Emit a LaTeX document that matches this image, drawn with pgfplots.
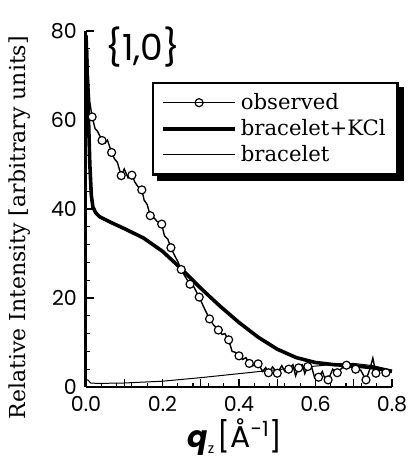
\documentclass[border=0pt]{standalone}
\usepackage{pgfplots}
\pgfplotsset{compat=1.18}
\usepackage{pgfplotstable}
\usepackage{fontspec}
\setmainfont{DejaVu Serif}
\newfontfamily\pop{Poppins}

\pgfplotstableread{
q v
0.003 79
0.006 70
0.010 64
0.016 60.7
0.024 58
0.030 57.5
0.042 55.4
0.050 54.8
0.056 55.5
0.067 52.7
0.075 51.2
0.082 50.5
0.092 47.5
0.100 49.0
0.110 47.0
0.120 47.6
0.128 46.0
0.136 45.0
0.146 44.3
0.152 42.0
0.160 41.0
0.168 38.5
0.178 38.0
0.186 37.2
0.198 36.6
0.205 34.0
0.214 33.2
0.222 31.3
0.232 29.5
0.240 28.2
0.249 26.4
0.258 25.0
0.272 23.1
0.282 22.5
0.296 20.2
0.305 18.5
0.312 17.2
0.323 15.3
0.333 14.0
0.346 12.8
0.356 11.8
0.363 12.0
0.373 10.6
0.382 8.0
0.390 7.8
0.400 7.0
0.410 6.2
0.418 6.6
0.427 5.3
0.437 4.8
0.450 5.2
0.462 3.5
0.470 4.4
0.477 3.2
0.488 4.5
0.500 3.1
0.512 4.8
0.520 3.5
0.530 4.0
0.541 5.0
0.548 2.5
0.556 4.3
0.566 5.0
0.572 3.0
0.580 4.6
0.590 4.5
0.598 2.0
0.608 2.2
0.618 3.5
0.625 1.8
0.633 1.6
0.645 4.0
0.657 3.2
0.668 4.2
0.681 4.9
0.692 4.5
0.705 4.0
0.718 3.8
0.732 1.6
0.742 4.0
0.750 6.5
0.758 3.1
0.770 4.2
0.784 3.2
}\obsline

\pgfplotstableread{
q v
0.016 60.7
0.042 55.4
0.067 52.7
0.092 47.5
0.120 47.6
0.146 44.3
0.168 38.5
0.198 36.6
0.222 31.3
0.249 26.4
0.272 23.1
0.296 20.2
0.323 15.3
0.346 12.8
0.373 10.6
0.400 7.0
0.427 5.3
0.450 5.2
0.477 3.2
0.500 3.1
0.530 4.0
0.556 4.3
0.580 4.6
0.608 2.2
0.633 1.6
0.657 3.2
0.681 4.9
0.705 4.0
0.732 1.6
0.758 3.1
0.784 3.2
}\obsmarks

\pgfplotstableread{
q v
0.001 76
0.006 62
0.010 50
0.014 43
0.018 40.5
0.025 39.2
0.035 38.3
0.060 37.2
0.100 35.6
0.150 33.5
0.200 30.5
0.250 26.5
0.300 22.2
0.350 18.2
0.400 14.5
0.450 11.2
0.500 8.5
0.550 6.6
0.600 5.5
0.650 5.0
0.700 4.8
0.750 4.3
0.800 3.5
}\kcltab

\pgfplotstableread{
q v
0.000 1.5
0.005 1.6
0.012 0.9
0.030 0.8
0.100 0.9
0.200 1.3
0.300 2.1
0.400 3.0
0.500 3.9
0.600 4.7
0.650 5.1
0.700 5.3
0.750 4.8
0.800 3.8
}\bracetab

\begin{document}
\begin{tikzpicture}
\useasboundingbox (-43pt,-36.5pt) rectangle (161.5pt,193.5pt);
\begin{axis}[
  scale only axis,
  width=153pt, height=178pt,
  xmin=0, xmax=0.8, ymin=0, ymax=80,
  axis x line=bottom, axis y line=left,
  axis line style={-, black},
  x axis line style={line width=1pt},
  y axis line style={line width=1.5pt},
  xtick={0,0.2,0.4,0.6,0.8},
  extra x ticks={0.1,0.3,0.5,0.7},
  extra x tick labels={},
  minor x tick num=4,
  ytick={0,20,40,60,80},
  minor y tick num=4,
  tick align=inside,
  major tick length=4pt,
  minor tick length=2pt,
  every tick/.style={black, line width=0.6pt},
  x tick label style={/pgf/number format/fixed, /pgf/number format/fixed zerofill, /pgf/number format/precision=1, yshift=-1pt},
  y tick label style={xshift=-1pt},
  /pgf/number format/assume math mode=true,
  tick label style={font=\pop\fontsize{10.3}{12}\selectfont},
  xlabel={{\pop\fontsize{15}{17}\selectfont\bfseries\itshape q}\raisebox{-0.6ex}{\pop\fontsize{7}{8}\selectfont z}\,{\pop\fontsize{15}{17}\selectfont [Å\textsuperscript{-1}]}},
  xlabel style={at={(rel axis cs:0.487,-0.14)}, anchor=center},
  ylabel={Relative Intensity [arbitrary units]},
  ylabel style={at={(rel axis cs:-0.216,0.447)}, anchor=center, font=\fontsize{11}{13}\selectfont},
  legend image code/.code={\draw[mark repeat=2,mark phase=2,#1] plot coordinates {(0pt,0pt) (18pt,0pt) (36pt,0pt)};},
  legend style={name=leg, at={(rel axis cs:0.216,0.857)}, anchor=north west, draw=black, line width=1.2pt,
    fill=white, font=\fontsize{10.6}{12}\selectfont, row sep=-0.5pt, inner xsep=4pt, inner ysep=3pt},
  legend cell align=left,
  clip=false,
]
\addlegendimage{black, line width=0.7pt, mark=o, mark options={fill=white, line width=0.6pt, scale=1}, mark size=2pt}
\addlegendentry{observed}
\addlegendimage{black, line width=1.8pt}
\addlegendentry{bracelet+KCl}
\addlegendimage{black, line width=0.5pt}
\addlegendentry{bracelet}

\addplot[black, line width=0.5pt, forget plot] table[x=q,y=v] {\bracetab};
\addplot[black, line width=1.8pt, forget plot] table[x=q,y=v] {\kcltab};
\addplot[black, line width=0.7pt, forget plot] table[x=q,y=v] {\obsline};
\addplot[black, only marks, mark=*, mark options={fill=white, draw=black, line width=0.6pt}, mark size=2pt, forget plot] table[x=q,y=v] {\obsmarks};

\node[font=\pop\fontsize{18}{21}\selectfont, anchor=center] at (rel axis cs:0.186,0.955) {\{1,0\}};
\end{axis}
\fill[black] ([yshift=-2.5pt]leg.north east) rectangle ([xshift=2.5pt,yshift=-2.5pt]leg.south east);
\fill[black] ([xshift=2.5pt]leg.south west) rectangle ([xshift=2.5pt,yshift=-2.5pt]leg.south east);
\end{tikzpicture}
\end{document}
